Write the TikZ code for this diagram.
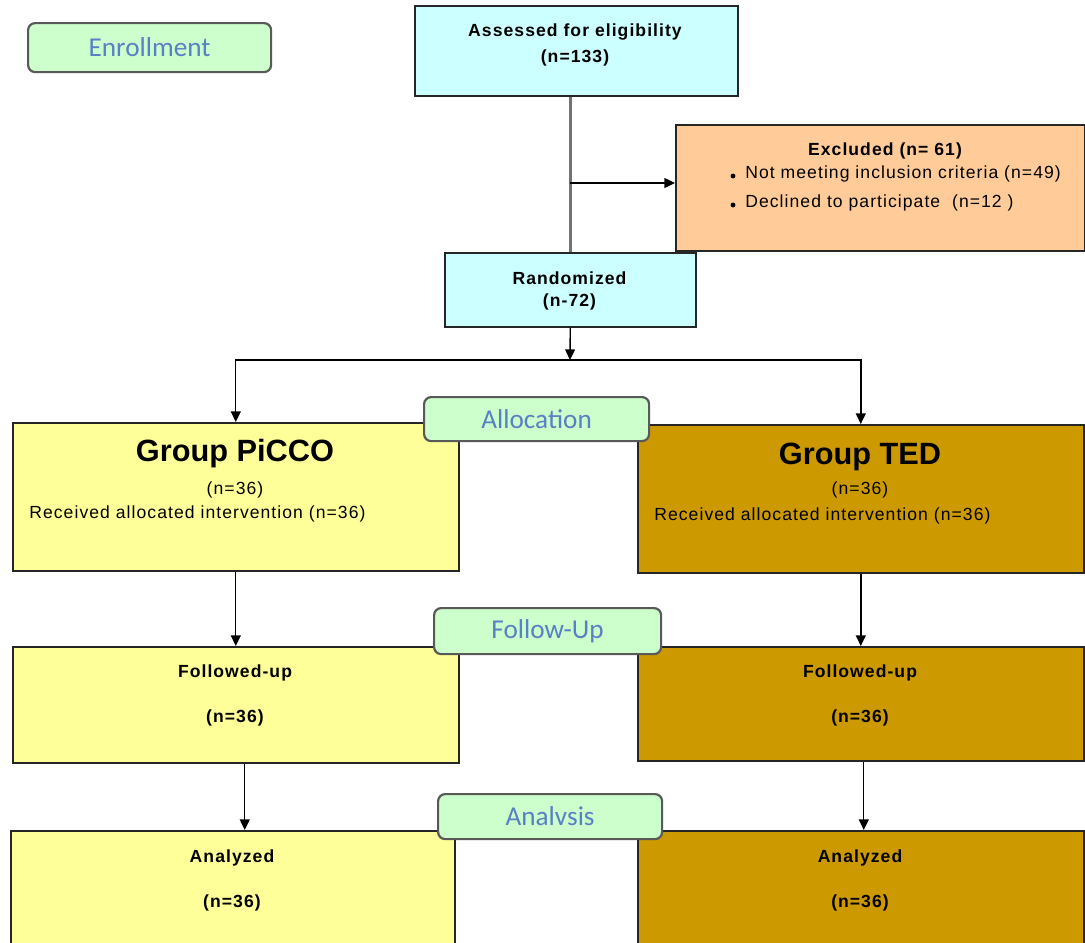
\documentclass[tikz,border=0pt]{standalone}
\usepackage{fontspec}
\setmainfont{Liberation Sans}
\newfontfamily\boxfont[LetterSpace=6]{Liberation Sans}
\newfontfamily\labfont{Carlito}
\usetikzlibrary{arrows.meta}
\definecolor{labgreen}{HTML}{CCFFCC}
\definecolor{labblue}{RGB}{88,128,196}
\definecolor{cyanbox}{HTML}{CCFFFF}
\definecolor{orangebox}{HTML}{FFCC99}
\definecolor{yellowbox}{HTML}{FFFF99}
\definecolor{goldbox}{HTML}{CC9900}
\newlength\px \setlength\px{0.02cm}
\begin{document}
\begin{tikzpicture}[x=0.02cm,y=-0.02cm,
  box/.style={draw=black!85, line width=0.9pt, rectangle, inner sep=0pt, anchor=north west},
  stagebox/.style={draw=black!65, line width=1.25pt, fill=labgreen, rounded corners=4pt, inner sep=0pt, anchor=north west, font=\labfont\fontsize{15.5}{18}\selectfont, text=labblue},
  txt/.style={font=\boxfont\fontsize{10}{12}\selectfont, inner sep=0pt},
  btxt/.style={font=\boxfont\bfseries\fontsize{10}{12}\selectfont, inner sep=0pt},
  ttl/.style={font=\bfseries\fontsize{17.5}{20}\selectfont, inner sep=0pt},
  arr/.style={-{Triangle[length=6pt,width=5.6pt]}, line width=0.8pt, draw=black},
  grayline/.style={line width=1.4pt, draw=black!55},
  dot/.style={circle, fill=black, inner sep=0pt, minimum size=2.8pt}
]
\useasboundingbox (0,0) rectangle (1085,943);
\clip (0,0) rectangle (1085,943);
\fill[white] (0,0) rectangle (1085,943);

% top part
\node[box, fill=cyanbox, minimum width=323\px, minimum height=90\px] (assess) at (414,5) {};
\node[btxt] (assessA) at (575,32) {Assessed for eligibility};
\node[btxt] (assessB) at (575,58) {(n=133)};

\node[box, fill=orangebox, minimum width=409\px, minimum height=126\px] (excl) at (675,124) {};
\node[btxt] (exclA) at (885,151) {Excluded (n= 61)};
\node[dot] (b1) at (733,176) {};
\node[txt, anchor=west] (exclB) at (745,174) {Not meeting inclusion criteria (n=49)};
\node[dot] (b2) at (733,205) {};
\node[txt, anchor=west] (exclC) at (745,203) {Declined to participate\ \ (n=12 )};

\node[box, fill=cyanbox, minimum width=251\px, minimum height=74\px] (rand) at (444,252) {};
\node[btxt] (randA) at (569.5,278) {Randomized};
\node[btxt] (randB) at (569.5,302) {(n-72)};

% groups
\node[box, fill=yellowbox, minimum width=446\px, minimum height=148\px] (picco) at (12,422) {};
\node[ttl] (piccoA) at (235,454) {Group PiCCO};
\node[txt] (piccoB) at (235,490) {(n=36)};
\node[txt, anchor=west] (piccoC) at (29,514) {Received allocated intervention (n=36)};

\node[box, fill=goldbox, minimum width=446\px, minimum height=148\px] (ted) at (637,424) {};
\node[ttl] (tedA) at (860,457) {Group TED};
\node[txt] (tedB) at (860,490) {(n=36)};
\node[txt, anchor=west] (tedC) at (654,516) {Received allocated intervention (n=36)};

% follow-up
\node[box, fill=yellowbox, minimum width=446\px, minimum height=116\px] (pfol) at (12,646) {};
\node[btxt] (pfolA) at (235,673) {Followed-up};
\node[btxt] (pfolB) at (235,718) {(n=36)};

\node[box, fill=goldbox, minimum width=446\px, minimum height=114\px] (tfol) at (637,646) {};
\node[btxt] (tfolA) at (860,673) {Followed-up};
\node[btxt] (tfolB) at (860,718) {(n=36)};

% analysis
\node[box, fill=yellowbox, minimum width=444\px, minimum height=140\px] (pana) at (10,830) {};
\node[btxt] (panaA) at (232,858) {Analyzed};
\node[btxt] (panaB) at (232,903) {(n=36)};

\node[box, fill=goldbox, minimum width=446\px, minimum height=140\px] (tana) at (637,830) {};
\node[btxt] (tanaA) at (860,858) {Analyzed};
\node[btxt] (tanaB) at (860,903) {(n=36)};

% connectors
\draw[grayline] (assess.south -| rand.north) -- (rand.north);
\coordinate (branch) at (570,183);
\draw[arr] (branch) -- (branch -| excl.west);
\coordinate (split) at (570,360);
\draw[arr] (rand.south) -- (split);
\draw[arr] (split) -| (picco.north);
\draw[arr] (split) -| (ted.north);
\draw[arr] (picco.south) -- (pfol.north);
\draw[arr] (ted.south) -- (tfol.north);
\draw[arr] ([xshift=5.1pt]pfol.south) -- ([xshift=5.1pt]pfol.south |- pana.north);
\draw[arr] ([xshift=1.7pt]tfol.south) -- ([xshift=1.7pt]tfol.south |- tana.north);

% stage labels
\node[stagebox, minimum width=243\px, minimum height=49\px] (enroll) at (27,22) {Enrollment};
\node[stagebox, minimum width=225\px, minimum height=44\px] (alloc) at (423,396) {Allocation};
\node[stagebox, minimum width=227\px, minimum height=46\px] (follow) at (433,607) {Follow-Up};
\node[stagebox, minimum width=224\px, minimum height=45\px] (analysis) at (437,793) {Analvsis};
\end{tikzpicture}
\end{document}
